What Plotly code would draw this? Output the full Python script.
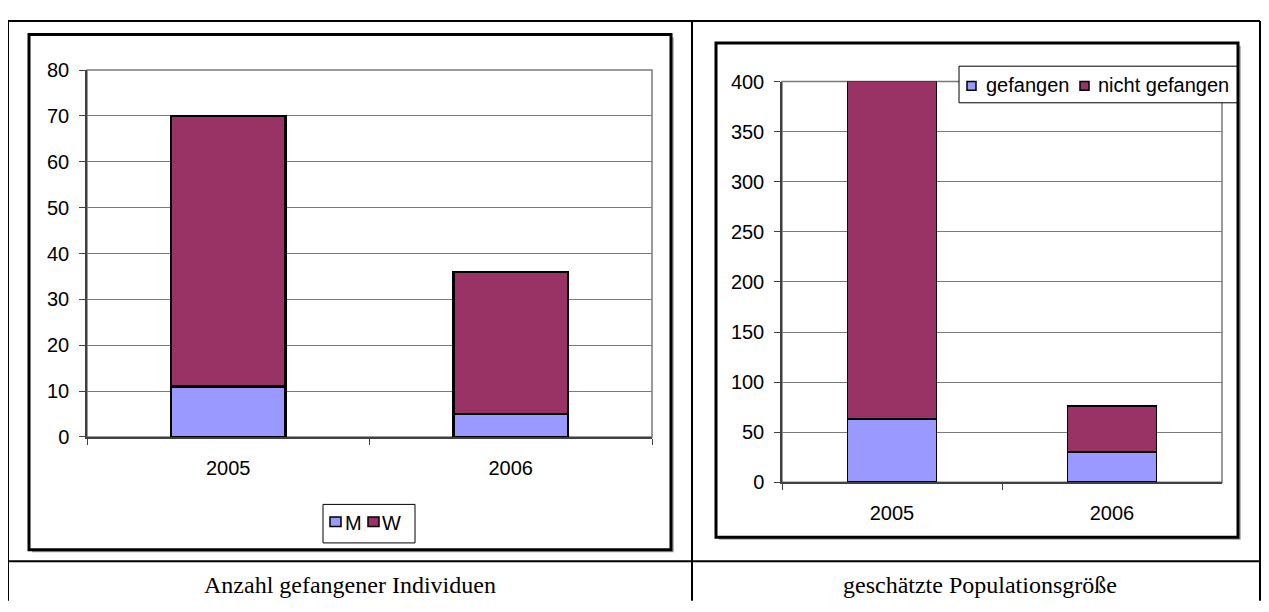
import plotly.graph_objects as go

# page has an 8px body margin, so the figure is made to fit inside the window
OX, OY = 8, 8
W, H = 1253, 596

years = ["2005", "2006"]
m_counts = [11, 5]
w_counts = [59, 31]
caught = [63, 30]
not_caught = [337, 46]

left_names = ["M", "W"]
right_names = ["gefangen", "nicht gefangen"]
captions = ["Anzahl gefangener Individuen", "geschätzte Populationsgröße"]

blue = "#9999FF"
plum = "#993366"
grid = "#7a7a7a"


def px(x):
    # window pixel -> paper x
    return (x - OX) / W


def py(y):
    # window pixel -> paper y
    return 1 - (y - OY) / H


fig = go.Figure()
fig.add_trace(go.Bar(x=years, y=m_counts, name=left_names[0], marker=dict(color=blue, line=dict(color="black", width=2.5)), xaxis="x", yaxis="y"))
fig.add_trace(go.Bar(x=years, y=w_counts, name=left_names[1], marker=dict(color=plum, line=dict(color="black", width=2.5)), xaxis="x", yaxis="y"))
fig.add_trace(go.Bar(x=years, y=caught, name=right_names[0], marker=dict(color=blue, line=dict(color="black", width=1.5)), xaxis="x2", yaxis="y2"))
fig.add_trace(go.Bar(x=years, y=not_caught, name=right_names[1], marker=dict(color=plum, line=dict(color="black", width=1.5)), xaxis="x2", yaxis="y2"))

tickfont = dict(family="Liberation Sans, Arial", size=20, color="black")
xstyle = dict(type="category", showgrid=False, showline=True, linecolor="#404040", linewidth=1.5,
              ticks="outside", tickson="boundaries", ticklen=6, tickcolor="#404040",
              tickfont=tickfont, ticklabelstandoff=12, fixedrange=True)
ystyle = dict(showgrid=True, gridcolor=grid, gridwidth=1, showline=True, linecolor="#404040", linewidth=1.5,
              ticks="outside", ticklen=6, tickcolor="#404040", tickfont=tickfont,
              ticklabelstandoff=6, zeroline=False, fixedrange=True)

fig.update_layout(
    width=W, height=H,
    margin=dict(l=0, r=0, t=0, b=0),
    paper_bgcolor="white", plot_bgcolor="white",
    barmode="stack", bargap=0.595,
    showlegend=False,
    xaxis=dict(xstyle, domain=[px(87), px(652)], anchor="y"),
    yaxis=dict(ystyle, domain=[py(442), py(61)], range=[0, 80], dtick=10, anchor="x"),
    xaxis2=dict(xstyle, domain=[px(782), px(1222)], anchor="y2"),
    yaxis2=dict(ystyle, domain=[py(489), py(73)], range=[0, 400], dtick=50, anchor="x2"),
)

shapes = []
# table lines
for x0, y0, x1, y1 in [(8, 10, 1260, 10), (8, 10, 8, 612), (1260, 10, 1260, 612),
                       (692, 10, 692, 612), (8, 571, 1260, 571)]:
    shapes.append(dict(type="line", xref="paper", yref="paper", x0=px(x0), y0=py(y0), x1=px(x1), y1=py(y1),
                       line=dict(color="black", width=2)))
# chart frames with a faint shadow
for x0, y0, x1, y1 in [(29, 24, 671, 559), (716, 33, 1238, 546)]:
    shapes.append(dict(type="path", xref="paper", yref="paper",
                       path="M %f,%f L %f,%f L %f,%f" % (px(x1 + 2), py(y0 + 3), px(x1 + 2), py(y1 + 2), px(x0 + 3), py(y1 + 2)),
                       line=dict(color="#a0a0a0", width=1.5)))
    shapes.append(dict(type="rect", xref="paper", yref="paper", x0=px(x0), y0=py(y0), x1=px(x1), y1=py(y1),
                       line=dict(color="black", width=3)))
# plot area borders
for xr, yr in [("x", "y"), ("x2", "y2")]:
    shapes.append(dict(type="rect", xref=xr + " domain", yref=yr + " domain", x0=0, y0=0, x1=1, y1=1,
                       line=dict(color=grid, width=1.5), layer="below"))

annotations = []
legfont = dict(family="Liberation Sans, Arial", size=20, color="black")

# left legend
shapes.append(dict(type="rect", xref="paper", yref="paper", x0=px(323), y0=py(512), x1=px(415), y1=py(552),
                   line=dict(color="black", width=1), fillcolor="white"))
for sx, tx, col, name in [(330, 343, blue, left_names[0]), (368, 380, plum, left_names[1])]:
    shapes.append(dict(type="rect", xref="paper", yref="paper", x0=px(sx), y0=py(525), x1=px(sx + 11), y1=py(535),
                       line=dict(color="black", width=1.5), fillcolor=col))
    annotations.append(dict(xref="paper", yref="paper", x=px(tx), y=py(531), text=name, showarrow=False,
                            xanchor="left", yanchor="middle", font=legfont))

# right legend
shapes.append(dict(type="rect", xref="paper", yref="paper", x0=px(959), y0=py(57), x1=px(1237), y1=py(95),
                   line=dict(color="black", width=1), fillcolor="white"))
for sx, tx, col, name in [(967, 984, blue, right_names[0]), (1080, 1096, plum, right_names[1])]:
    shapes.append(dict(type="rect", xref="paper", yref="paper", x0=px(sx), y0=py(73), x1=px(sx + 9), y1=py(82),
                       line=dict(color="black", width=1.5), fillcolor=col))
    annotations.append(dict(xref="paper", yref="paper", x=px(tx), y=py(77), text=name, showarrow=False,
                            xanchor="left", yanchor="middle", font=legfont))

# captions
capfont = dict(family="Liberation Serif, Times New Roman", size=24, color="black")
annotations.append(dict(xref="paper", yref="paper", x=px(350), y=py(596), text=captions[0], showarrow=False,
                        xanchor="center", yanchor="middle", font=capfont))
annotations.append(dict(xref="paper", yref="paper", x=px(980), y=py(596), text=captions[1], showarrow=False,
                        xanchor="center", yanchor="middle", font=capfont))

fig.update_layout(shapes=shapes, annotations=annotations)

fig.write_html("out.html", config={"displayModeBar": False})
